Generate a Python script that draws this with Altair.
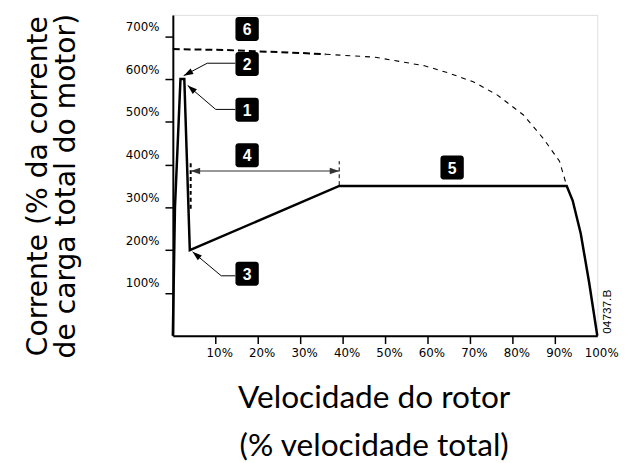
import altair as alt
import pandas as pd

# ---------------- data ----------------
x_ticks = [10, 20, 30, 40, 50, 60, 70, 80, 90, 100]
y_ticks = [100, 200, 300, 400, 500, 600, 700]

# soft-start current curve (% speed, % FLC)
curve_x = [0, 0.5, 1.8, 2.7, 4.0, 39.2, 92.8, 94.2, 96.1, 98.1, 100]
curve_y = [0, 300, 600, 600, 200, 350, 350, 316, 239, 123, 0]

# direct-on-line current curve (6), dashed
dol_x = [0, 12, 22, 30, 36, 47.7, 59.3, 65, 70.9, 76.4, 82.6, 87.2, 91.1, 92.8, 94.2, 96.1, 98.1, 100]
dol_y = [670, 668, 664, 661, 658, 651, 631, 614, 593, 563, 516, 462, 408, 350, 316, 239, 123, 0]
dol_heavy_end = 36

# vertical dashed markers
mark1_x, mark1_y = 4.2, [297, 410]
mark2_x, mark2_y = 39.2, [352, 408]

# double arrow (4)
span_x = [4.2, 39.2]
span_y = 385

# numbered callout boxes
box_labels = ["6", "2", "1", "4", "3", "5"]
box_x = [17.5, 17.5, 17.5, 17.5, 17.5, 65.8]
box_y = [717, 635, 528, 422, 145, 393]

# leader lines (box -> target)
lead_ids = ["2", "2", "2", "1", "1", "1", "3", "3", "3"]
lead_x = [14.7, 8.1, 2.56, 14.7, 10.1, 3.5, 14.7, 11.4, 4.65]
lead_y = [637, 637, 608, 529, 529, 585, 140, 140, 196]

# arrowheads (tip position and direction)
head_x = [2.56, 3.5, 4.65]
head_y = [608, 585, 196]
head_ang = [242, 311, 310]
span_head_x = [4.2, 39.2]
span_head_ang = [270, 90]

code_text = "04737.B"
code_x, code_y = 102.3, 56

x_title = ["Velocidade do rotor", "(% velocidade total)"]
y_title = ["Corrente (% da corrente", "de carga total do motor)"]

# ---------------- scales / axes ----------------
xs = alt.Scale(domain=[0, 100], nice=False, zero=False)
ys = alt.Scale(domain=[0, 750], nice=False, zero=False)

x_axis = alt.Axis(
    values=x_ticks, labelExpr="datum.value + '%'", title=x_title,
    grid=False, domainColor="black", domainWidth=2, tickColor="black", tickWidth=1.5,
    tickSize=8, labelFont="DejaVu Sans", labelFontSize=12, labelColor="black",
    labelPadding=4, labelOffset=4, labelBaseline="top", labelFlush=False,
    tickOpacity={"condition": {"test": "datum.value == 100", "value": 0}, "value": 1},
    titleFont="Lato", titleFontSize=32, titleFontWeight="normal", titleColor="black",
    titleX=203.5, titleY=73, titleAlign="center", titleBaseline="alphabetic",
    titleLineHeight=48, titleAnchor="middle",
)
y_axis = alt.Axis(
    values=y_ticks, labelExpr="datum.value + '%'", title=y_title,
    grid=False, domainColor="black", domainWidth=2, tickColor="black", tickWidth=1.5,
    tickSize=8, labelFont="DejaVu Sans", labelFontSize=12, labelColor="black",
    labelPadding=6, labelOffset=-6, labelBaseline="alphabetic", labelFlush=False,
    titleFont="DejaVu Sans", titleFontSize=28.5, titleFontWeight="normal", titleColor="black",
    titleAngle=270, titleX=-128, titleY=173, titleAlign="center", titleBaseline="alphabetic",
    titleLineHeight=28, titleAnchor="middle",
)

def X(field="x"):
    return alt.X(f"{field}:Q", scale=xs, axis=x_axis)

def Y(field="y"):
    return alt.Y(f"{field}:Q", scale=ys, axis=y_axis)

# ---------------- layers ----------------
curve_df = pd.DataFrame({"x": curve_x, "y": curve_y, "i": range(len(curve_x))})
main = alt.Chart(curve_df).mark_line(color="black", strokeWidth=2.5, strokeJoin="miter").encode(
    x=X(), y=Y(), order="i:Q")

dol_df = pd.DataFrame({"x": dol_x, "y": dol_y, "i": range(len(dol_x))})
dol_heavy = alt.Chart(dol_df[dol_df.x <= dol_heavy_end]).mark_line(
    color="black", strokeWidth=2, strokeDash=[7, 4]).encode(x=X(), y=Y(), order="i:Q")
dol_light = alt.Chart(dol_df[dol_df.x >= dol_heavy_end]).mark_line(
    color="black", strokeWidth=1.1, strokeDash=[5, 5]).encode(x=X(), y=Y(), order="i:Q")

m1 = alt.Chart(pd.DataFrame({"x": [mark1_x], "y": [mark1_y[0]], "y2": [mark1_y[1]]})).mark_rule(
    color="black", strokeWidth=2, strokeDash=[4, 3]).encode(x=X(), y=Y(), y2="y2:Q")
m2 = alt.Chart(pd.DataFrame({"x": [mark2_x], "y": [mark2_y[0]], "y2": [mark2_y[1]]})).mark_rule(
    color="black", strokeWidth=1, strokeDash=[4, 3]).encode(x=X(), y=Y(), y2="y2:Q")

span = alt.Chart(pd.DataFrame({"x": [span_x[0]], "x2": [span_x[1]], "y": [span_y]})).mark_rule(
    color="#333333", strokeWidth=1.2).encode(x=X(), x2="x2:Q", y=Y())

arrow_path = "M0,0L-0.8,2.4L0.8,2.4Z"
heads_df = pd.DataFrame({
    "x": head_x + span_head_x,
    "y": head_y + [span_y, span_y],
    "a": head_ang + span_head_ang,
    "c": ["black"] * len(head_x) + ["#333333"] * 2,
})
heads = alt.Chart(heads_df).mark_point(
    shape=arrow_path, filled=True, size=64, opacity=1, strokeWidth=0).encode(
    x=X(), y=Y(), angle=alt.Angle("a:Q", scale=None), color=alt.Color("c:N", scale=None))

lead_df = pd.DataFrame({"id": lead_ids, "x": lead_x, "y": lead_y, "i": range(len(lead_x))})
leads = alt.Chart(lead_df).mark_line(color="black", strokeWidth=1).encode(
    x=X(), y=Y(), detail="id:N", order="i:Q")

box_df = pd.DataFrame({"t": box_labels, "cx": box_x, "cy": box_y})
boxes = alt.Chart(box_df).transform_calculate(
    x1="datum.cx - 2.75", x2="datum.cx + 2.75", y1="datum.cy - 28", y2="datum.cy + 28"
).mark_rect(color="black", cornerRadius=3).encode(x=X("x1"), x2="x2:Q", y=Y("y1"), y2="y2:Q")
box_text = alt.Chart(box_df).mark_text(
    color="white", font="Liberation Sans", fontWeight="bold", fontSize=16,
    baseline="middle", align="center", dy=1).encode(x=X("cx"), y=Y("cy"), text="t:N")

code = alt.Chart(pd.DataFrame({"x": [code_x], "y": [code_y], "t": [code_text]})).mark_text(
    font="Liberation Sans", fontSize=12, angle=270, align="center", baseline="middle",
    color="black").encode(x=X(), y=Y(), text="t:N")

chart = alt.layer(
    main, dol_heavy, dol_light, m1, m2, span, leads, heads, boxes, box_text, code
).properties(
    width=430, height=325,
    autosize=alt.AutoSizeParams(type="none"),
    padding={"left": 167, "top": 4, "right": 22, "bottom": 126},
).configure_view(strokeWidth=0).configure(background="white")

chart.save("out.html", embed_options={"renderer": "svg", "actions": False})
